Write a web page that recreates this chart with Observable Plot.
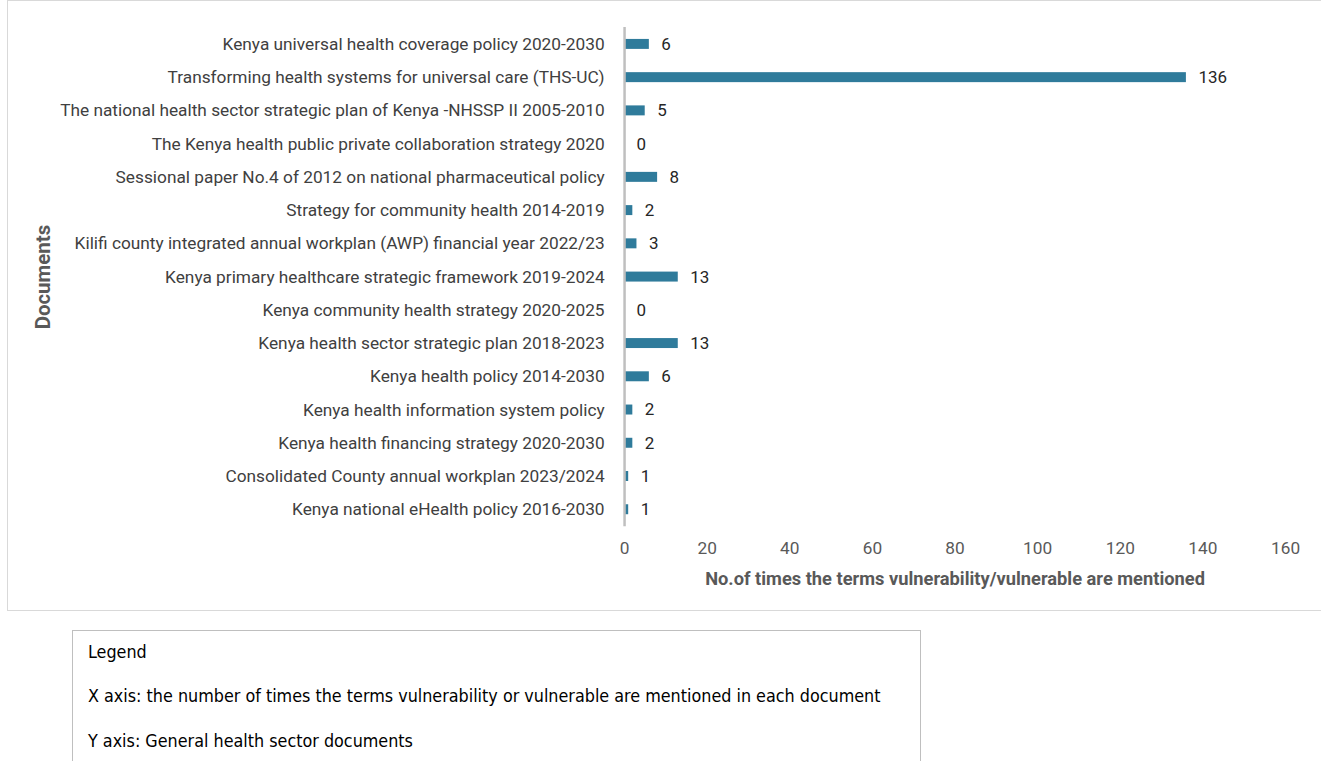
<!DOCTYPE html>
<html>
<head>
<meta charset="utf-8">
<script src="https://cdn.jsdelivr.net/npm/d3@7"></script>
<script src="https://cdn.jsdelivr.net/npm/@observablehq/plot@0.6"></script>
<style>
  html, body { margin: 0; padding: 0; background: #fff; width: 1321px; height: 761px; overflow: hidden; }
  #frame { position: absolute; left: 7px; top: 0px; width: 1315px; height: 611px; border: 1px solid #d9d9d9; box-sizing: border-box; }
  #frame svg { position: absolute; left: -1px; top: -1px; }
  #legend { position: absolute; left: 72px; top: 630px; width: 849px; height: 150px; border: 1px solid #bfbfbf; box-sizing: border-box;
    font-family: "Liberation Sans Narrow", "DejaVu Sans Condensed", "Open Sans", sans-serif; font-size: 17.8px; color: #000; }
  #legend p { margin: 0; position: absolute; left: 15px; }
  g[aria-label="x-axis label"] text { font-weight: bold; font-size: 18.3px; fill: #595959; }
  g[aria-label="y-axis label"] text { font-weight: bold; font-size: 20.5px; fill: #595959; }
  g[aria-label="x-axis tick label"] text { fill: #595959; }
  g[aria-label="y-axis tick label"] text { fill: #404040; }
</style>
</head>
<body>
<div id="frame"></div>
<div id="legend">
  <p style="top:10px">Legend</p>
  <p style="top:54px">X axis: the number of times the terms vulnerability or vulnerable are mentioned in each document</p>
  <p style="top:99px">Y axis: General health sector documents</p>
</div>
<script>
const documents = [
  "Kenya universal health coverage policy 2020-2030",
  "Transforming health systems for universal care (THS-UC)",
  "The national health sector strategic plan of Kenya -NHSSP II 2005-2010",
  "The Kenya health public private collaboration strategy 2020",
  "Sessional paper No.4 of 2012 on national pharmaceutical policy",
  "Strategy for community health 2014-2019",
  "Kilifi county integrated annual workplan (AWP) financial year 2022/23",
  "Kenya primary healthcare strategic framework 2019-2024",
  "Kenya community health strategy 2020-2025",
  "Kenya health sector strategic plan 2018-2023",
  "Kenya health policy 2014-2030",
  "Kenya health information system policy",
  "Kenya health financing strategy 2020-2030",
  "Consolidated County annual workplan 2023/2024",
  "Kenya national eHealth policy 2016-2030"
];
const mentions = [6, 136, 5, 0, 8, 2, 3, 13, 0, 13, 6, 2, 2, 1, 1];
const xTicks = [0, 20, 40, 60, 80, 100, 120, 140, 160];

const data = documents.map((d, i) => ({doc: d, n: mentions[i]}));

const chart = Plot.plot({
  width: 1315,
  height: 611,
  marginLeft: 618,
  marginRight: 35,
  marginTop: 27,
  marginBottom: 84,
  style: {fontFamily: "Roboto, 'Open Sans', sans-serif", fontSize: "17.3px", color: "#404040", background: "transparent"},
  x: {domain: [0, 160], ticks: xTicks, tickSize: 0, tickPadding: 15, label: "No.of times the terms vulnerability/vulnerable are mentioned",
      labelAnchor: "center", labelOffset: 58, labelArrow: "none"},
  y: {domain: documents, round: false, paddingInner: 0.7, paddingOuter: 0.36, tickSize: 0, tickPadding: 20, label: "Documents",
      labelAnchor: "center", labelOffset: 590},
  marks: [
    Plot.barX(data, {x: "n", y: "doc", fill: "#2f7b9b"}),
    Plot.ruleX([0], {stroke: "#bfbfbf", strokeWidth: 2.5}),
    Plot.text(data, {x: "n", y: "doc", text: d => String(d.n), textAnchor: "start", dx: 12, fill: "#262626", fontSize: 17})
  ]
});
document.getElementById("frame").appendChild(chart);
</script>
</body>
</html>
